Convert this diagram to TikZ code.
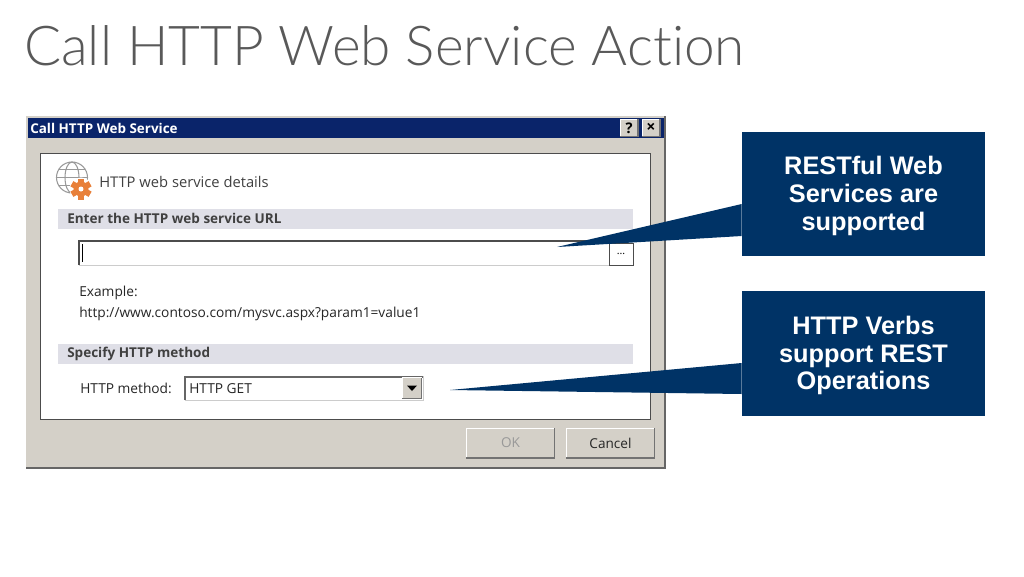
\documentclass[tikz,border=0pt]{standalone}
\usepackage{fontspec}
\setmainfont{Open Sans}
\newfontfamily\calloutfont{Liberation Sans}
\newfontfamily\titlefont[Ligatures=NoCommon]{Lato Light}
\definecolor{navy}{HTML}{003366}
\definecolor{titlebar}{HTML}{0A246A}
\definecolor{dialoggray}{HTML}{D4D0C8}
\definecolor{bandgray}{HTML}{DFDFE7}
\definecolor{gearorange}{HTML}{E8803A}
\tikzset{
  label/.style={anchor=west,inner sep=0pt,font=\fontsize{10.3}{12}\selectfont,text=black!85},
  bandlabel/.style={anchor=west,inner sep=0pt,font=\fontsize{10.15}{12}\selectfont\bfseries,text=black!75},
  band/.style={fill=bandgray,draw=none},
  raised/.style={fill=dialoggray,draw=none,inner sep=0pt},
  callout/.style={fill=navy,draw=none,text=white,align=center,inner sep=0pt,
    minimum width=182.25pt,minimum height=93.5pt,
    font=\calloutfont\fontsize{19}{20.8}\selectfont\bfseries},
}
\begin{document}
\begin{tikzpicture}[x=0.75pt,y=-0.75pt]
\useasboundingbox (0,0) rectangle (1024,576);

% title
\node [anchor=west,inner sep=0pt,text=black!65,font=\titlefont\fontsize{41.2}{48}\selectfont] (title) at (24,46) {Call HTTP Web Service Action};

% dialog
\fill [dialoggray] (26,116) rectangle (666,469);
\draw [black!60,line width=1.5pt] (26,468) -- (665,468) -- (665,116);
\fill [titlebar] (28,118) rectangle (664,138);
\node [anchor=west,inner sep=0pt,text=white,font=\fontsize{10.1}{12}\selectfont\bfseries] (dialogtitle) at (30,128.5) {Call HTTP Web Service};
\node [raised,minimum width=13pt,minimum height=12.5pt,font=\fontsize{11}{12}\selectfont\bfseries] (help) at (629,128) {?};
\node [raised,minimum width=13pt,minimum height=12.5pt,font=\fontsize{12}{12}\selectfont\bfseries] (close) at (651,128) {×};
\draw [fill=white,draw=black!70,line width=1pt] (40.5,153.5) rectangle (650.5,419.5);

% icon
\draw [black!40,line width=0.8pt] (72,177.5) circle (15.5);
\draw [black!40,line width=0.8pt] (72,177.5) ellipse (7 and 15.5);
\draw [black!40,line width=0.8pt] (56.5,177.5) -- (87.5,177.5) (59,169.5) -- (85,169.5) (59,185.5) -- (85,185.5);
\fill [white] (81,189) circle (11.5);
\foreach \a in {0,60,120}
  \fill [gearorange,rotate around={\a:(81,189)}] (78,178.5) rectangle (84,199.5);
\fill [gearorange] (81,189) circle (7.5);
\fill [white] (81,189) circle (2.5);
\node [label,font=\fontsize{11.05}{12}\selectfont,text=black!75] (details) at (99,181.5) {HTTP web service details};

% url
\fill [band] (58,209) rectangle (633,229);
\node [bandlabel] (urlband) at (67,218.5) {Enter the HTTP web service URL};
\fill [white] (79,240) rectangle (609,265);
\draw [black!20,line width=0.7pt] (79,265) -- (609,265);
\draw [black!70,line width=1.2pt] (79,265) -- (79,241) -- (633,241);
\draw [black,line width=0.6pt] (82,244) -- (82,262);
\node [fill=white,draw=black!70,line width=0.6pt,inner sep=0pt,minimum width=18pt,minimum height=16.5pt,font=\fontsize{8}{10}\selectfont] (browse) at (621,254) {...};
\node [label] (example) at (79,293) {Example:};
\node [label] (exampleurl) at (79,314) {http://www.contoso.com/mysvc.aspx?param1=value1};

% method
\fill [band] (58,344) rectangle (633,364);
\node [bandlabel] (methodband) at (67,353.5) {Specify HTTP method};
\node [label] (method) at (80,388.5) {HTTP method:};
\fill [white] (185,376) rectangle (423,400);
\draw [black!20,line width=0.7pt] (185,400) -- (423,400) -- (423,376);
\draw [black!60,line width=1.2pt] (185,400) -- (185,377) -- (423,377);
\node [label] (get) at (189,388.5) {HTTP GET};
\node [raised,minimum width=14pt,minimum height=15pt] (drop) at (412,388) {};
\fill [black] (407,385.5) -- (417,385.5) -- (412,391) -- cycle;

% buttons
\node [raised,minimum width=66pt,minimum height=22pt,text=black!40,font=\fontsize{10.2}{12}\selectfont] (ok) at (510.5,443) {OK};
\node [raised,minimum width=66pt,minimum height=22pt,text=black!85,font=\fontsize{10.2}{12}\selectfont] (cancel) at (610.5,443) {Cancel};
\foreach \b in {help,close,drop,ok,cancel} {
  \draw [white,line width=0.7pt] (\b.south west) -- (\b.north west) -- (\b.north east);
  \draw [black!55,line width=1pt] (\b.south west) -- (\b.south east) -- (\b.north east);
}

% callouts
\node [callout] (rest) at (863.5,194) {\rule{0pt}{17pt}RESTful Web\\Services are\\supported};
\node [callout] (verbs) at (863.5,353.5) {\rule{0pt}{17pt}HTTP Verbs\\support REST\\Operations};
\coordinate (resttip) at (557,247);
\coordinate (verbstip) at (450,390);
\fill [navy] (resttip) -- (rest.west |- 0,204) -- (rest.west |- 0,236) -- cycle;
\fill [navy] (verbstip) -- (verbs.west |- 0,363) -- (verbs.west |- 0,394) -- cycle;
\end{tikzpicture}
\end{document}
